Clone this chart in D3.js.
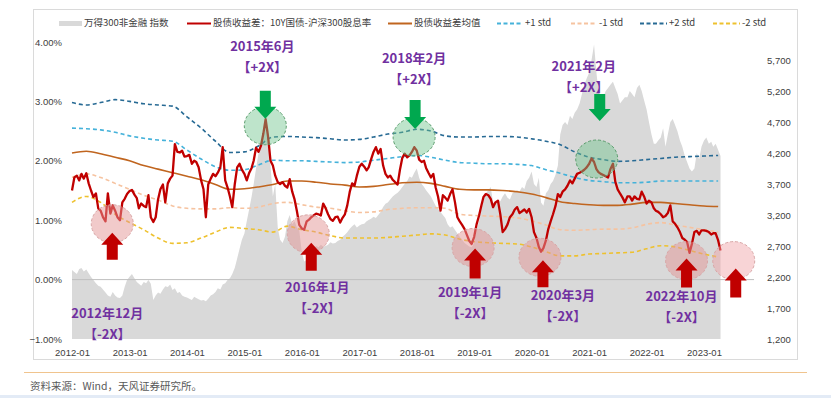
<!DOCTYPE html>
<html>
<head>
<meta charset="utf-8">
<script src="https://cdn.jsdelivr.net/npm/d3@7"></script>
<style>
  body { margin: 0; background: #fff; }
  svg { display: block; font-family: "Noto Sans CJK SC", "Noto Sans", sans-serif; }
</style>
</head>
<body>
<svg id="chart" width="831" height="398"></svg>
<script>
// observations on the 1st and 16th of every month, 2012-01 .. 2023-04
const months = d3.timeMonth.range(new Date(2012, 0, 1), new Date(2023, 4, 1));
const halfMonths = months.flatMap(m => [m, d3.timeDay.offset(m, 15)]);
// quarterly points for the mean / std bands
const quarters = d3.timeMonth.every(3).range(new Date(2012, 0, 1), new Date(2023, 4, 1));

// 股债收益差 (%), one row per year
const spread = [
  1.50, 1.72, 1.75, 1.67, 1.78, 1.70, 1.79, 1.62, 1.50, 1.39, 1.45, 1.20, 1.16, 1.05, 0.98, 1.45, 1.11, 1.25, 1.16, 1.05, 1.00, 1.30, 1.36, 1.44,
  1.49, 1.51, 1.43, 1.37, 1.20, 1.28, 1.24, 1.22, 1.42, 1.05, 0.97, 1.05, 1.35, 1.52, 1.60, 1.30, 1.62, 1.70, 1.75, 2.28, 2.15, 2.14, 2.17, 2.07,
  2.08, 2.10, 1.95, 2.00, 1.98, 1.89, 1.67, 1.52, 1.05, 1.60, 1.70, 1.78, 1.74, 1.80, 1.89, 2.23, 1.67, 1.55, 1.40, 1.22, 1.61, 1.89, 1.95, 1.85,
  1.78, 1.67, 1.80, 1.88, 2.00, 2.22, 2.15, 2.25, 2.45, 2.70, 2.40, 2.00, 1.92, 1.75, 1.64, 1.61, 1.64, 1.58, 1.55, 1.69, 1.48, 1.35, 1.15, 0.92,
  0.86, 0.84, 0.98, 1.01, 1.05, 1.08, 1.11, 1.10, 1.08, 1.28, 1.20, 1.10, 1.02, 0.99, 1.05, 1.06, 0.96, 1.04, 1.10, 1.25, 1.48, 1.62, 1.58, 1.75,
  1.90, 1.95, 1.90, 1.84, 1.89, 2.02, 2.15, 2.23, 2.12, 2.20, 1.92, 1.78, 1.72, 1.75, 1.68, 1.64, 1.60, 1.85, 2.05, 2.12, 2.06, 2.09, 2.15, 2.23,
  2.17, 2.02, 1.98, 2.00, 1.88, 1.80, 1.72, 1.78, 1.55, 1.40, 1.16, 1.42, 1.38, 1.33, 1.44, 1.52, 1.30, 1.05, 0.98, 0.92, 0.85, 0.75, 0.65, 0.60,
  0.72, 0.93, 1.08, 1.25, 1.39, 1.44, 1.42, 1.36, 1.22, 1.30, 1.33, 1.10, 0.80, 0.85, 0.93, 1.05, 1.10, 1.18, 1.22, 1.12, 1.15, 1.18, 1.13, 1.19,
  1.05, 0.80, 0.70, 0.55, 0.47, 0.53, 0.66, 0.85, 0.98, 1.10, 1.24, 1.44, 1.39, 1.48, 1.52, 1.58, 1.67, 1.62, 1.70, 1.78, 1.80, 1.82, 1.85, 1.89,
  1.95, 2.04, 1.98, 1.86, 1.81, 1.78, 1.76, 1.74, 1.72, 1.86, 1.95, 1.65, 1.52, 1.45, 1.38, 1.30, 1.40, 1.40, 1.33, 1.40, 1.36, 1.35, 1.48, 1.40,
  1.28, 1.33, 1.30, 1.20, 1.16, 1.14, 1.10, 1.05, 1.07, 1.12, 1.25, 0.98, 0.94, 0.88, 0.80, 0.70, 0.67, 0.63, 0.45, 0.60, 0.80, 0.82, 0.76, 0.83,
  0.83, 0.82, 0.80, 0.76, 0.78, 0.78, 0.66, 0.49
];

// 万得300非金融 指数, one row per year
const index300 = [
  2313, 2280, 2250, 2330, 2345, 2290, 2320, 2260, 2200, 2150, 2100, 2060, 2044, 2000, 1950, 1900, 1880, 1960, 1900, 1870, 1860, 1900, 2044, 2150,
  2205, 2250, 2180, 2120, 2090, 2060, 2120, 2100, 2150, 2090, 1830, 1900, 1950, 1930, 2000, 2050, 2040, 2080, 1990, 2020, 1940, 1960, 1900, 1880,
  1870, 1850, 1830, 1880, 1860, 1840, 1820, 1830, 1810, 1850, 1900, 1920, 1960, 2020, 2000, 2080, 2100, 2150, 2180, 2250, 2350, 2500, 2650, 2800,
  2900, 3100, 3300, 3500, 3700, 3950, 4200, 4350, 4450, 4650, 4600, 4000, 3500, 3700, 3000, 2800, 2750, 2850, 3100, 3200, 3050, 3100, 3000, 2950,
  2600, 2450, 2474, 2520, 2550, 2650, 2700, 2680, 2720, 2690, 2700, 2720, 2760, 2740, 2750, 2780, 2800, 2850, 2880, 2920, 2980, 3020, 3050, 3000,
  3030, 3050, 3060, 3100, 3120, 3140, 3170, 3150, 3200, 3250, 3330, 3380, 3400, 3450, 3500, 3530, 3560, 3600, 3650, 3700, 3750, 3820, 3800, 3880,
  3950, 3800, 3700, 3650, 3600, 3550, 3500, 3420, 3350, 3300, 3250, 3200, 3150, 3050, 3000, 3020, 2960, 2900, 2850, 2800, 2750, 2720, 2690, 2680,
  2750, 2950, 3100, 3300, 3450, 3550, 3600, 3650, 3400, 3380, 3450, 3420, 3500, 3550, 3480, 3450, 3550, 3580, 3600, 3580, 3650, 3620, 3750, 3800,
  3900, 3700, 3650, 3800, 3400, 3350, 3550, 3600, 3700, 3750, 3850, 4000, 4500, 4650, 4700, 4650, 4800, 4750, 4850, 4900, 5000, 5150, 5300, 5400,
  5500, 5700, 5950, 5500, 5200, 5100, 5100, 5200, 5250, 5300, 5350, 5250, 5150, 5000, 5050, 5100, 5100, 5200, 5150, 5100, 5250, 5300, 5200, 5050,
  4900, 4700, 4500, 4350, 4350, 4400, 4450, 4600, 4300, 4500, 4700, 4750, 4650, 4550, 4400, 4300, 4150, 4050, 3950, 3900, 3950, 4200, 4100, 4300,
  4400, 4450, 4350, 4380, 4300, 4350, 4250, 4150
];

const spreadMean = [
  2.13, 2.16, 2.12, 2.06, 2.00, 1.92, 1.86, 1.80, 1.74, 1.68, 1.60, 1.52,
  1.53, 1.56, 1.60, 1.66, 1.66, 1.64, 1.61, 1.59, 1.56, 1.57, 1.60, 1.63,
  1.64, 1.62, 1.57, 1.52, 1.51, 1.51, 1.50, 1.48, 1.44, 1.38, 1.31, 1.28,
  1.26, 1.25, 1.25, 1.27, 1.30, 1.30, 1.28, 1.26, 1.24, 1.23
];
const plus1 = [
  2.55, 2.54, 2.52, 2.48, 2.42, 2.38, 2.35, 2.33, 2.18, 2.03, 1.90, 1.84,
  1.85, 1.93, 2.01, 2.00, 2.00, 1.99, 1.98, 1.97, 1.98, 2.01, 2.04, 2.07,
  2.09, 2.06, 2.01, 1.97, 1.96, 1.95, 1.95, 1.94, 1.92, 1.85, 1.79, 1.72,
  1.67, 1.65, 1.63, 1.63, 1.64, 1.66, 1.66, 1.66, 1.66, 1.66
];
const minus1 = [
  1.72, 1.78, 1.72, 1.62, 1.52, 1.42, 1.34, 1.24, 1.20, 1.19, 1.19, 1.21,
  1.20, 1.22, 1.28, 1.30, 1.26, 1.22, 1.20, 1.16, 1.13, 1.14, 1.18, 1.20,
  1.21, 1.21, 1.20, 1.10, 1.08, 1.07, 1.06, 1.04, 0.99, 0.92, 0.84, 0.83,
  0.84, 0.85, 0.85, 0.87, 0.93, 0.96, 0.92, 0.88, 0.84, 0.80
];
const plus2 = [
  2.98, 2.94, 2.98, 3.03, 3.00, 2.96, 2.94, 2.92, 2.74, 2.55, 2.33, 2.14,
  2.15, 2.25, 2.40, 2.41, 2.40, 2.39, 2.37, 2.35, 2.36, 2.40, 2.45, 2.48,
  2.53, 2.50, 2.42, 2.40, 2.40, 2.41, 2.41, 2.40, 2.37, 2.33, 2.27, 2.15,
  2.06, 2.02, 1.99, 2.00, 2.02, 2.04, 2.06, 2.07, 2.08, 2.09
];
const minus2 = [
  1.30, 1.40, 1.30, 1.10, 0.96, 0.84, 0.70, 0.61, 0.62, 0.70, 0.80, 0.88,
  0.86, 0.84, 0.80, 0.90, 0.84, 0.80, 0.74, 0.70, 0.70, 0.70, 0.71, 0.73,
  0.75, 0.77, 0.75, 0.68, 0.64, 0.62, 0.61, 0.60, 0.55, 0.47, 0.40, 0.40,
  0.43, 0.44, 0.45, 0.46, 0.52, 0.57, 0.55, 0.49, 0.43, 0.38
];

const leftTicks = [-1, 0, 1, 2, 3, 4];
const rightTicks = [1200, 1700, 2200, 2700, 3200, 3700, 4200, 4700, 5200, 5700];
const yearTicks = d3.timeYear.range(new Date(2012, 0, 1), new Date(2023, 1, 1));

// annotated extremes: circle centre in (date, spread %)
const annoDates = ["2012-09-13", "2015-05-14", "2016-02-11", "2017-12-15", "2018-12-25",
                   "2020-02-23", "2021-02-18", "2022-09-12", "2023-07-09"];
const annoValues = [0.94, 2.59, 0.77, 2.40, 0.54, 0.375, 2.03, 0.32, 0.32];
const annoTitles = ["2012年12月", "2015年6月", "2016年1月", "2018年2月", "2019年1月",
                    "2020年3月", "2021年2月", "2022年10月", ""];
const annoTags = ["【-2X】", "【+2X】", "【-2X】", "【+2X】", "【-2X】", "【-2X】", "【+2X】", "【-2X】", ""];
const annoKinds = ["low", "high", "low", "high", "low", "low", "high", "low", "low"];

const legendNames = ["万得300非金融 指数", "股债收益差：10Y国债-沪深300股息率", "股债收益差均值",
                     "+1 std", "-1 std", "+2 std", "-2 std"];

const svg = d3.select("#chart");
const parse = d3.timeParse("%Y-%m-%d");

const x = d3.scaleTime()
  .domain([new Date(2012, 0, 1), new Date(2023, 0, 1)])
  .range([72, 704]);
const yL = d3.scaleLinear().domain([-1, 4]).range([339, 42]);
const yR = d3.scaleLinear().domain([1200, 5700]).range([339, 60]);

// frame
svg.append("rect")
  .attr("x", 33.5).attr("y", 9.5).attr("width", 764).attr("height", 350)
  .attr("fill", "none").attr("stroke", "#dadada");

// index area
svg.append("path")
  .datum(index300)
  .attr("fill", "#d9d9d9")
  .attr("d", d3.area()
    .x((d, i) => x(halfMonths[i]))
    .y0(yR(1200))
    .y1(d => yR(d)));

// zero line
svg.append("line")
  .attr("x1", x(months[0])).attr("x2", x(new Date(2023, 10, 15)))
  .attr("y1", yL(0)).attr("y2", yL(0))
  .attr("stroke", "#bfbfbf").attr("stroke-width", 1);

const bandLine = d3.line()
  .x((d, i) => x(quarters[i]))
  .y(d => yL(d))
  .curve(d3.curveMonotoneX);

const bands = [
  { values: minus1, color: "#f6c3a0" },
  { values: minus2, color: "#eec12e" },
  { values: plus1, color: "#45b2da" },
  { values: plus2, color: "#276a94" }
];
bands.forEach(b => {
  svg.append("path")
    .datum(b.values)
    .attr("fill", "none")
    .attr("stroke", b.color)
    .attr("stroke-width", 1.6)
    .attr("stroke-dasharray", "4,3")
    .attr("d", bandLine);
});

svg.append("path")
  .datum(spreadMean)
  .attr("fill", "none")
  .attr("stroke", "#c0651f")
  .attr("stroke-width", 1.6)
  .attr("d", bandLine);

svg.append("path")
  .datum(spread)
  .attr("fill", "none")
  .attr("stroke", "#c00000")
  .attr("stroke-width", 2.3)
  .attr("stroke-linejoin", "round")
  .attr("d", d3.line().x((d, i) => x(halfMonths[i])).y(d => yL(d)));

// axes
const axisFont = g => g.selectAll("text").attr("font-size", 9.5).attr("fill", "#404040");

svg.append("g")
  .attr("transform", "translate(65,0)")
  .call(d3.axisLeft(yL).tickValues(leftTicks).tickSize(0).tickPadding(3)
    .tickFormat(d => d3.format(".2f")(d) + "%"))
  .call(g => g.select(".domain").remove())
  .call(axisFont);

svg.append("g")
  .attr("transform", "translate(764,0)")
  .call(d3.axisRight(yR).tickValues(rightTicks).tickSize(0).tickPadding(3)
    .tickFormat(d3.format(",")))
  .call(g => g.select(".domain").remove())
  .call(axisFont);

svg.append("g")
  .attr("transform", "translate(0,339)")
  .call(d3.axisBottom(x).tickValues(yearTicks).tickSize(0).tickPadding(10)
    .tickFormat(d3.timeFormat("%Y-%m")))
  .call(g => g.select(".domain").remove())
  .call(axisFont);

// annotations: label / arrow offsets relative to each circle centre
const annoLayout = [
  { ldx: -5, ldy: 91, adx: 0, a0: 9, a1: 36 },
  { ldx: -3, ldy: -78, adx: 0, a0: -35, a1: -7 },
  { ldx: 9, ldy: 55, adx: 3, a0: 9, a1: 37 },
  { ldx: 0, ldy: -78, adx: 1, a0: -37, a1: -8 },
  { ldx: -3, ldy: 46, adx: 2, a0: 1, a1: 31 },
  { ldx: 23, ldy: 39, adx: 3, a0: 3, a1: 30 },
  { ldx: -13, ldy: -92, adx: 3, a0: -65, a1: -38 },
  { ldx: -5, ldy: 37, adx: 0, a0: -2, a1: 27 },
  { ldx: 0, ldy: 0, adx: 2, a0: 8, a1: 37 }
];

function arrowPath(cx, y0, y1, up) {
  // y0 < y1 ; tip at y0 when pointing up, at y1 when pointing down
  const hw = 11, sw = 5.5, hh = 12;
  if (up) {
    return `M${cx},${y0} L${cx + hw},${y0 + hh} L${cx + sw},${y0 + hh} L${cx + sw},${y1}
            L${cx - sw},${y1} L${cx - sw},${y0 + hh} L${cx - hw},${y0 + hh} Z`;
  }
  return `M${cx},${y1} L${cx + hw},${y1 - hh} L${cx + sw},${y1 - hh} L${cx + sw},${y0}
          L${cx - sw},${y0} L${cx - sw},${y1 - hh} L${cx - hw},${y1 - hh} Z`;
}

annoDates.forEach((ds, i) => {
  const cx = x(parse(ds));
  const cy = yL(annoValues[i]);
  const lay = annoLayout[i];
  const high = annoKinds[i] === "high";
  const last = annoTitles[i] === "";

  svg.append("ellipse")
    .attr("cx", cx).attr("cy", cy).attr("rx", 21).attr("ry", 19)
    .attr("fill", high ? "rgba(110,196,140,0.45)" : (last ? "rgba(240,160,165,0.45)" : "rgba(228,150,150,0.5)"))
    .attr("stroke", high ? "#5a9c6c" : "#d8a6a6")
    .attr("stroke-width", 1)
    .attr("stroke-dasharray", "3,2");

  svg.append("path")
    .attr("d", arrowPath(cx + lay.adx, cy + lay.a0, cy + lay.a1, !high))
    .attr("fill", high ? "#00a84f" : "#c00000");

  if (!last) {
    svg.append("text")
      .attr("x", cx + lay.ldx).attr("y", cy + lay.ldy)
      .attr("text-anchor", "middle").attr("dominant-baseline", "middle")
      .attr("font-size", 13).attr("font-weight", "bold").attr("fill", "#7030a0")
      .text(annoTitles[i]);
    svg.append("text")
      .attr("x", cx + lay.ldx).attr("y", cy + lay.ldy + 21)
      .attr("text-anchor", "middle").attr("dominant-baseline", "middle")
      .attr("font-size", 13).attr("font-weight", "bold").attr("fill", "#7030a0")
      .text(annoTags[i]);
  }
});

// legend
const legend = svg.append("g").attr("font-size", 9.5).attr("fill", "#404040");
const legendX = [59, 187, 388, 497, 571, 640, 713];
const legendKeyW = [23, 24, 24, 26, 26, 27, 27];
const legendColors = ["#d9d9d9", "#c00000", "#c0651f", "#45b2da", "#f6c3a0", "#276a94", "#eec12e"];
legendNames.forEach((name, i) => {
  const lx = legendX[i];
  if (i === 0) {
    legend.append("rect").attr("x", lx).attr("y", 21).attr("width", legendKeyW[i]).attr("height", 5)
      .attr("fill", legendColors[i]);
  } else {
    legend.append("line")
      .attr("x1", lx).attr("x2", lx + legendKeyW[i]).attr("y1", 23.5).attr("y2", 23.5)
      .attr("stroke", legendColors[i]).attr("stroke-width", 2)
      .attr("stroke-dasharray", i >= 3 ? "4,2.5" : null);
  }
  legend.append("text")
    .attr("x", lx + legendKeyW[i] + 2).attr("y", 23.5)
    .attr("dominant-baseline", "middle")
    .text(name);
});

// footer
svg.append("line")
  .attr("x1", 24).attr("x2", 807).attr("y1", 372.5).attr("y2", 372.5)
  .attr("stroke", "#f0c48e").attr("stroke-width", 1);
svg.append("text")
  .attr("x", 30).attr("y", 387)
  .attr("dominant-baseline", "middle")
  .attr("font-size", 10.5).attr("fill", "#595959")
  .text("资料来源：Wind，天风证券研究所。");
svg.append("rect")
  .attr("x", 0).attr("y", 395).attr("width", 831).attr("height", 3)
  .attr("fill", "#e3ebf6");
</script>
</body>
</html>
